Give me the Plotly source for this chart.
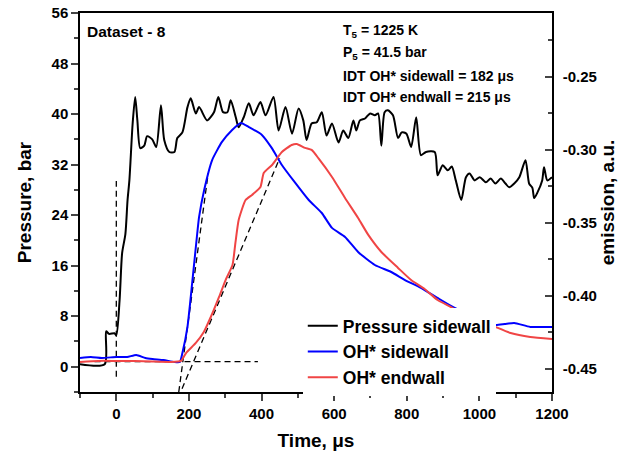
import plotly.graph_objects as go

# Pressure sidewall (bar) vs time (us)
t_pressure = [-100, -32, -28, -20, -5, 0, 9, 16, 25, 31, 36, 45, 52, 58, 66, 77, 85, 99, 110, 123,
              132, 146, 160, 168, 182, 196, 205, 219, 228, 250, 269, 281, 294, 306, 315, 329, 337, 351,
              365, 378, 397, 411, 433, 447, 466, 484, 502, 515, 524, 538, 552, 566, 579, 594, 612, 625,
              639, 653, 661, 671, 685, 699, 712, 721, 730, 739, 748, 762, 776, 786, 799, 812, 826, 839,
              853, 877, 885, 899, 913, 924, 935, 950, 963, 973, 987, 1001, 1018, 1031, 1044, 1059, 1072,
              1082, 1096, 1110, 1127, 1137, 1146, 1151, 1160, 1173, 1178, 1187, 1200]
p_sidewall = [0.4, 0.4, 5.6, 5.2, 5.3, 5.0, 10.5, 18.0, 21.0, 26.4, 29.5, 38.5, 42.7, 39.0, 34.6, 35.0,
              36.5, 36.0, 34.8, 41.4, 35.9, 34.0, 34.0, 36.2, 37.1, 41.1, 42.5, 40.1, 41.1, 39.0, 40.3,
              42.7, 40.3, 40.3, 42.2, 39.5, 37.9, 39.5, 41.7, 39.8, 41.9, 39.8, 42.7, 37.4, 41.1, 36.9,
              40.9, 39.0, 35.9, 38.5, 38.7, 40.3, 36.6, 38.5, 35.5, 37.4, 36.2, 39.0, 37.4, 39.0, 39.3,
              40.1, 39.8, 40.1, 35.0, 40.3, 40.6, 39.8, 36.2, 37.1, 36.9, 34.8, 39.5, 33.5, 34.0, 34.0,
              30.3, 31.9, 31.1, 31.7, 29.5, 26.4, 30.0, 30.6, 29.5, 30.0, 29.2, 29.8, 29.0, 29.8, 29.0,
              28.4, 29.0, 30.0, 32.7, 29.0, 28.3, 26.7, 27.6, 29.5, 31.6, 29.5, 30.0]

# OH* emission sidewall (a.u.)
t_oh_side = [-100, -70, -40, 0, 30, 55, 80, 100, 130, 160, 175, 182, 196, 209, 223, 228, 242, 264, 291,
             319, 343, 365, 401, 428, 456, 493, 530, 566, 594, 630, 666, 712, 757, 795, 839, 885, 932,
             977, 1010, 1044, 1070, 1096, 1140, 1200]
oh_side = [-0.4425, -0.4418, -0.4425, -0.4418, -0.4418, -0.4404, -0.4425, -0.4432, -0.4439, -0.4452,
           -0.4452, -0.4391, -0.4212, -0.3911, -0.3569, -0.3459, -0.3274, -0.3069, -0.2945, -0.2863,
           -0.2815, -0.2843, -0.2897, -0.2986, -0.3103, -0.3226, -0.3343, -0.3432, -0.3534, -0.3596,
           -0.3699, -0.3788, -0.3836, -0.3891, -0.3945, -0.4014, -0.4082, -0.4130, -0.4165, -0.4199,
           -0.4192, -0.4185, -0.4212, -0.4212]

# OH* emission endwall (a.u.)
t_oh_end = [-100, -50, 0, 50, 100, 150, 178, 192, 219, 241, 265, 283, 301, 320, 328, 337, 356, 374,
            397, 406, 429, 456, 483, 497, 520, 538, 557, 594, 630, 666, 694, 730, 776, 812, 849, 885,
            922, 950, 980, 1010, 1044, 1086, 1140, 1200]
oh_end = [-0.4452, -0.4445, -0.4445, -0.4445, -0.4449, -0.4452, -0.4445, -0.4391, -0.4322, -0.4247,
          -0.4117, -0.4007, -0.3891, -0.3788, -0.3637, -0.3480, -0.3343, -0.3308, -0.3254, -0.3158,
          -0.3103, -0.3014, -0.2966, -0.2959, -0.2986, -0.3000, -0.3058, -0.3185, -0.3329, -0.3466,
          -0.3582, -0.3699, -0.3808, -0.3891, -0.3952, -0.4028, -0.4076, -0.4117, -0.4151, -0.4178,
          -0.4212, -0.4254, -0.4281, -0.4295]

# dashed guide lines used for the ignition delay (pressure units)
t_zero_line = [0, 0]
p_zero_line = [-1.6, 29.4]
t_base_line = [-60, 390]
p_base_line = [0.8, 0.8]
t_tan_side = [172, 253]
p_tan_side = [-4, 30.6]
t_tan_end = [181, 450]
p_tan_end = [-3.5, 33.0]

right_tickvals = [-0.45, -0.40, -0.35, -0.30, -0.25]
right_ticktext = ["-0.45", "-0.40", "-0.35", "-0.30", "-0.25"]

FONT = "Liberation Sans, Arial, sans-serif"
RED = "#f04545"

fig = go.Figure()

fig.add_trace(go.Scatter(x=t_pressure, y=p_sidewall, mode="lines", name="Pressure sidewall",
                         line=dict(color="black", width=2, shape="spline", smoothing=0.7)))
fig.add_trace(go.Scatter(x=t_oh_side, y=oh_side, mode="lines", name="OH* sidewall",
                         line=dict(color="#0000ff", width=2, shape="spline", smoothing=0.5),
                         yaxis="y2"))
fig.add_trace(go.Scatter(x=t_oh_end, y=oh_end, mode="lines", name="OH* endwall",
                         line=dict(color=RED, width=2, shape="spline", smoothing=0.5),
                         yaxis="y2"))

for xs, ys in [(t_zero_line, p_zero_line), (t_base_line, p_base_line),
               (t_tan_side, p_tan_side), (t_tan_end, p_tan_end)]:
    fig.add_trace(go.Scatter(x=xs, y=ys, mode="lines", showlegend=False, hoverinfo="skip",
                             line=dict(color="black", width=1.3, dash="6px,4px")))

tickfont = dict(family=FONT, size=15, color="black", weight="bold")
titlefont = dict(family=FONT, size=19, color="black", weight="bold")

fig.update_layout(
    width=624, height=461,
    margin=dict(l=80, r=72, t=13, b=69),
    plot_bgcolor="white", paper_bgcolor="white",
    font=dict(family=FONT, color="black", weight="bold"),
    xaxis=dict(range=[-100, 1200], tick0=0, dtick=200, ticks="outside", ticklen=7, tickwidth=1.5,
               showline=True, linewidth=1.5, linecolor="black", mirror=True, showgrid=False,
               zeroline=False, tickfont=tickfont, automargin=False,
               minor=dict(dtick=100, ticks="outside", ticklen=4, tickwidth=1.5),
               title=dict(text="Time, μs", font=titlefont, standoff=13)),
    yaxis=dict(range=[-4, 56], tick0=0, dtick=8, ticks="outside", ticklen=7, tickwidth=1.5,
               showline=True, linewidth=1.5, linecolor="black", showgrid=False, zeroline=False,
               tickfont=tickfont, automargin=False, ticklabeloverflow="allow",
               minor=dict(dtick=4, tick0=0, ticks="outside", ticklen=4, tickwidth=1.5),
               title=dict(text="Pressure, bar", font=titlefont, standoff=15)),
    yaxis2=dict(range=[-0.4658, -0.2062], overlaying="y", side="right", tickmode="array",
                tickvals=right_tickvals, ticktext=right_ticktext, ticks="inside", ticklen=7,
                tickwidth=1.5, showline=True, linewidth=1.5, linecolor="black", showgrid=False,
                zeroline=False, tickfont=tickfont, ticklabelstandoff=6, automargin=False,
                minor=dict(dtick=0.025, tick0=-0.45, ticks="inside", ticklen=4, tickwidth=1.5),
                title=dict(text="emission, a.u.", font=titlefont, standoff=4)),
    legend=dict(x=0.472, y=0.222, xanchor="left", yanchor="top", bgcolor="white",
                borderwidth=0, font=dict(family=FONT, size=17.5, color="black", weight="bold"),
                tracegroupgap=0),
    showlegend=True,
)

annots = [
    ("Dataset - 8", 0.011, 0.9525, 15.5),
    ("T<sub>5</sub> = 1225 K", 0.553, 0.9525, 14),
    ("P<sub>5</sub> = 41.5 bar", 0.553, 0.8945, 14),
    ("IDT OH* sidewall = 182 μs", 0.553, 0.8338, 14),
    ("IDT OH* endwall = 215 μs", 0.553, 0.7784, 14),
]
for text, ax, ay, size in annots:
    fig.add_annotation(text=text, x=ax, y=ay, xref="paper", yref="paper", xanchor="left",
                       yanchor="middle", showarrow=False,
                       font=dict(family=FONT, size=size, color="black", weight="bold"))

# drop the page's default body margin so the figure sits at the window corner
fig.write_html("out.html", config={"displayModeBar": False},
               post_script="document.body.style.margin='0px';")
